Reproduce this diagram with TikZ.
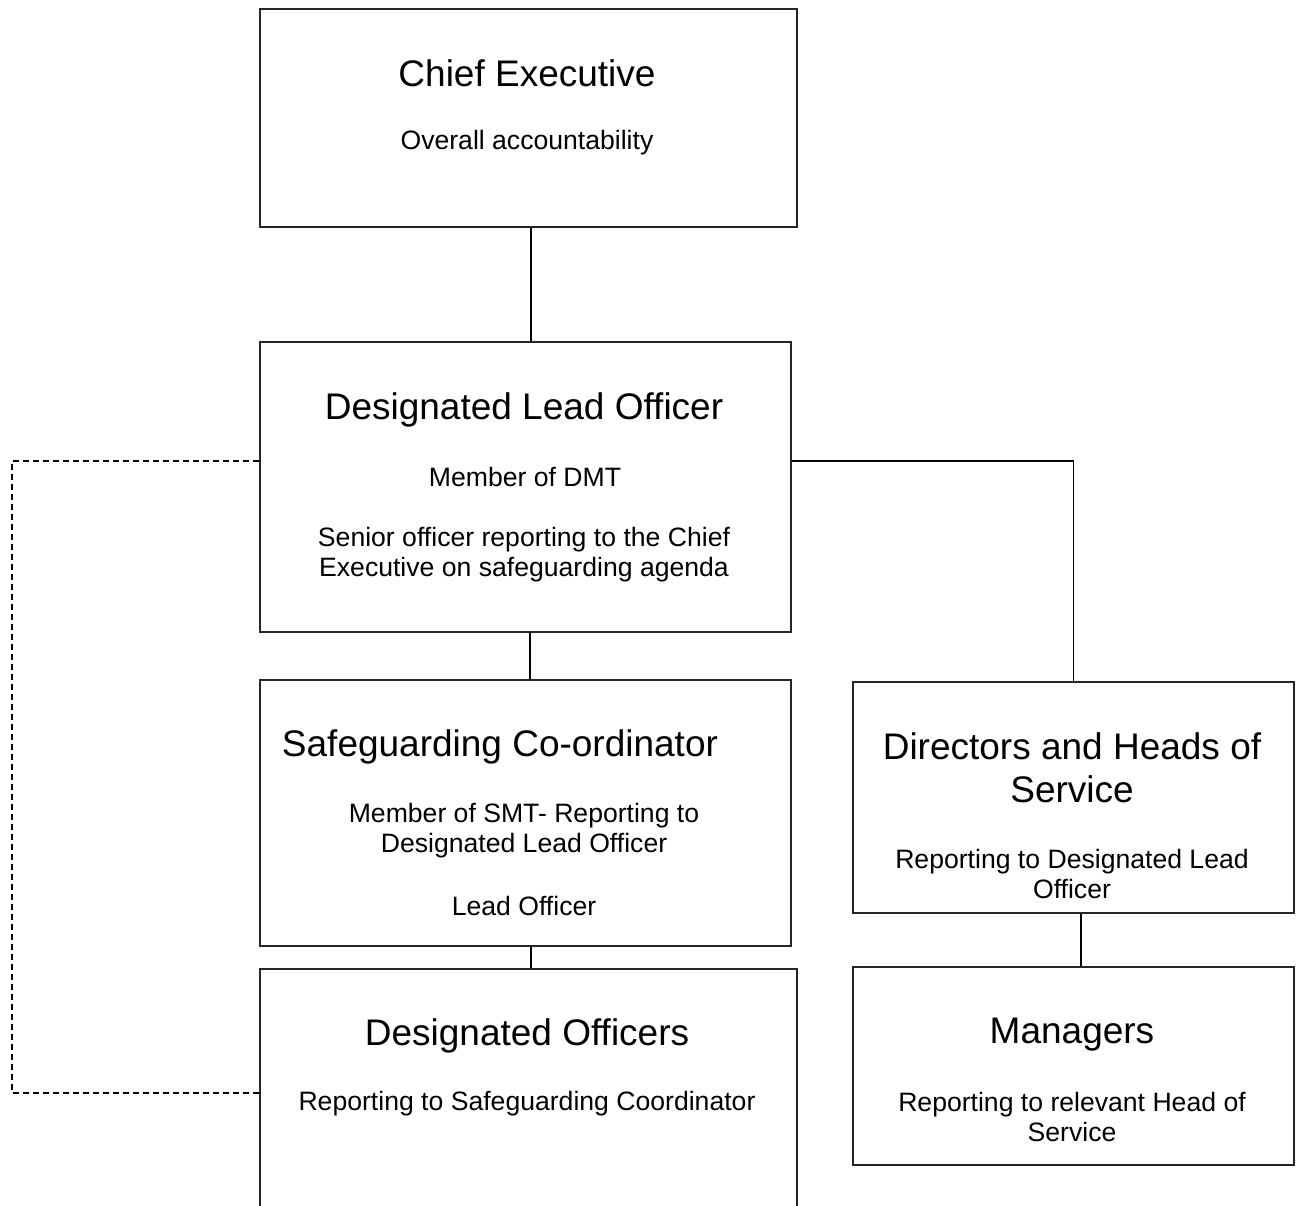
\documentclass[tikz,border=0pt]{standalone}
\usepackage{fontspec}
\setmainfont{Liberation Sans}
\usepackage{tikz}
\usetikzlibrary{calc}
\newcommand{\headfont}{\fontsize{18.5}{21.5}\selectfont}
\newcommand{\bodyfont}{\fontsize{13.3}{15}\selectfont}

\begin{document}
\begin{tikzpicture}[
      x=0.5pt, y=-0.5pt,
      box/.style={draw=black!85, line width=0.75pt, anchor=north west, inner sep=0pt},
      head/.style={font=\headfont, align=center, inner sep=0pt},
      txt/.style={font=\bodyfont, align=center, inner sep=0pt},
      link/.style={draw=black, line width=0.75pt},
      dashlink/.style={draw=black, line width=0.75pt, dash pattern=on 3pt off 2pt}
    ]
      \clip (0,0) rectangle (1301,1205);
      % boxes
      \node[box, minimum width=268.5pt, minimum height=109pt] (ce) at (259,8) {};
      \node[box, minimum width=265.5pt, minimum height=145pt] (dlo) at (259,341) {};
      \node[box, minimum width=265.5pt, minimum height=133pt] (sc) at (259,679) {};
      \node[box, minimum width=268.5pt, minimum height=124pt] (dof) at (259,968) {};
      \node[box, minimum width=220.5pt, minimum height=115.5pt] (dh) at (852,681) {};
      \node[box, minimum width=220.5pt, minimum height=99pt] (mg) at (852,966) {};
      % texts
      \node[head] (ce-t) at (527,73) {Chief Executive};
      \node[txt] (ce-s) at (527,143) {Overall accountability};
      \node[head] (dlo-t) at (524,410) {Designated Lead Officer};
      \node[txt] (dlo-s) at (525,477) {Member of DMT};
      \node[txt] (dlo-r) at (524,555) {Senior officer reporting to the Chief\\Executive on safeguarding agenda};
      \node[head] (sc-t) at (500,747) {Safeguarding Co-ordinator};
      \node[txt] (sc-s) at (524,831) {Member of SMT- Reporting to\\Designated Lead Officer};
      \node[txt] (sc-r) at (524,906) {Lead Officer};
      \node[head] (dof-t) at (527,1036) {Designated Officers};
      \node[txt] (dof-s) at (527,1104) {Reporting to Safeguarding Coordinator};
      \node[head] (dh-t) at (1072,768) {Directors and Heads of\\Service};
      \node[txt] (dh-s) at (1072,874) {Reporting to Designated Lead\\Officer};
      \node[head] (mg-t) at (1072,1035) {Managers};
      \node[txt] (mg-s) at (1072,1117) {Reporting to relevant Head of\\Service};
      % connectors
      \draw[link] ([xshift=1.25pt]ce.south) -- ([xshift=1.25pt]ce.south |- dlo.north);
      \draw[link] ([xshift=2.25pt]dlo.south) -- ([xshift=2.25pt]dlo.south |- sc.north);
      \draw[link] ([xshift=2.75pt]sc.south) -- ([xshift=2.75pt]sc.south |- dof.north);
      \draw[link] ([yshift=13pt]dlo.east) -| (dh.north);
      \draw[link] ([xshift=3.75pt]dh.south) -- ([xshift=3.75pt]dh.south |- mg.north);
      \draw[dashlink] ([yshift=13pt]dlo.west) -| ([xshift=-123.5pt]dof.west) -- (dof.west);
    \end{tikzpicture}
\end{document}
